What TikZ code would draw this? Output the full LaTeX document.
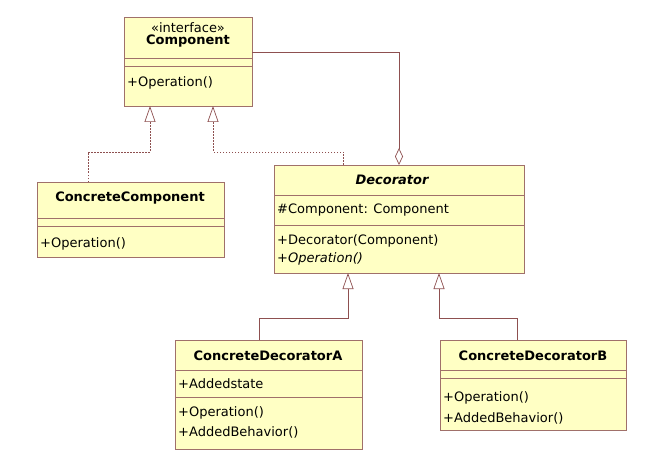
\documentclass[tikz,border=0pt]{standalone}
\usepackage{fontspec}
\setmainfont{DejaVu Sans}
\usetikzlibrary{arrows.meta,calc}
\definecolor{boxfill}{HTML}{FFFFC4}
\definecolor{boxline}{HTML}{A0706A}
\definecolor{conn}{HTML}{8E5050}
\begin{document}
\begin{tikzpicture}[x=1pt,y=-1pt,
  box/.style={draw=boxline,fill=boxfill,line width=0.9pt,inner sep=0,anchor=north west},
  txt/.style={inner sep=0,anchor=west,font=\fontsize{13}{15}\selectfont},
  ttl/.style={inner sep=0,font=\fontsize{13}{15}\selectfont\bfseries},
  div/.style={draw=boxline,line width=0.9pt},
  inh/.style={draw=conn,line width=0.7pt,-{Triangle[open,length=16pt,width=11pt,fill=white]}},
  real/.style={inh,dash pattern=on 1.5pt off 1.5pt},
  agg/.style={draw=conn,line width=0.7pt,-{Diamond[open,length=17pt,width=8pt,fill=white]}}]
\useasboundingbox (0,0) rectangle (663,457);
% Component
\node[box,minimum width=128pt,minimum height=89pt] (comp) at (124,17) {};
\node[inner sep=0,font=\fontsize{13}{15}\selectfont] (compst) at (188,28) {<<interface>>};
\node[ttl] (compt) at (188,41) {Component};
\draw[div] (124,58) -- (252,58);
\draw[div] (124,66) -- (252,66);
\node[txt] (compo) at (127,83) {+Operation()};
% ConcreteComponent
\node[box,minimum width=187pt,minimum height=75pt] (cc) at (37,182) {};
\node[ttl] (cct) at (130,198) {ConcreteComponent};
\draw[div] (37,218) -- (224,218);
\draw[div] (37,226) -- (224,226);
\node[txt] (cco) at (40,244) {+Operation()};
% Decorator
\node[box,minimum width=250pt,minimum height=108pt] (dec) at (274,165) {};
\node[ttl,font=\fontsize{13}{15}\selectfont\bfseries\itshape] (dect) at (392,180) {Decorator};
\draw[div] (274,195) -- (524,195);
\node[txt] (deca) at (277,210) {\#Component: Component};
\draw[div] (274,225) -- (524,225);
\node[txt] (decc) at (277,241) {+Decorator(Component)};
\node[txt,font=\fontsize{13}{15}\selectfont\itshape] (deco) at (277,259) {+Operation()};
% ConcreteDecoratorA
\node[box,minimum width=187pt,minimum height=109pt] (cda) at (175,340) {};
\node[ttl] (cdat) at (268,356) {ConcreteDecoratorA};
\draw[div] (175,370) -- (362,370);
\node[txt] (cdaa) at (178,384) {+Addedstate};
\draw[div] (175,397) -- (362,397);
\node[txt] (cdao) at (178,413) {+Operation()};
\node[txt] (cdab) at (178,432) {+AddedBehavior()};
% ConcreteDecoratorB
\node[box,minimum width=186pt,minimum height=90pt] (cdb) at (440,340) {};
\node[ttl] (cdbt) at (533,356) {ConcreteDecoratorB};
\draw[div] (440,370) -- (626,370);
\draw[div] (440,378) -- (626,378);
\node[txt] (cdbo) at (443,398) {+Operation()};
\node[txt] (cdbb) at (443,418) {+AddedBehavior()};
% connector anchor points
\coordinate (c1) at (150,106);
\coordinate (c2) at (213,106);
\coordinate (c3) at (252,52);
\coordinate (ccT) at (88,182);
\coordinate (decT1) at (343,165);
\coordinate (decT2) at (399,165);
\coordinate (d1) at (348,273);
\coordinate (d2) at (439,273);
\coordinate (aT) at (259,340);
\coordinate (bT) at (517,340);
\draw[real] (ccT) |- (150,152) -- (c1);
\draw[real] (decT1) |- (213,152) -- (c2);
\draw[agg] (c3) -| (decT2);
\draw[inh] (aT) |- (348,318) -- (d1);
\draw[inh] (bT) |- (439,318) -- (d2);
\end{tikzpicture}
\end{document}
